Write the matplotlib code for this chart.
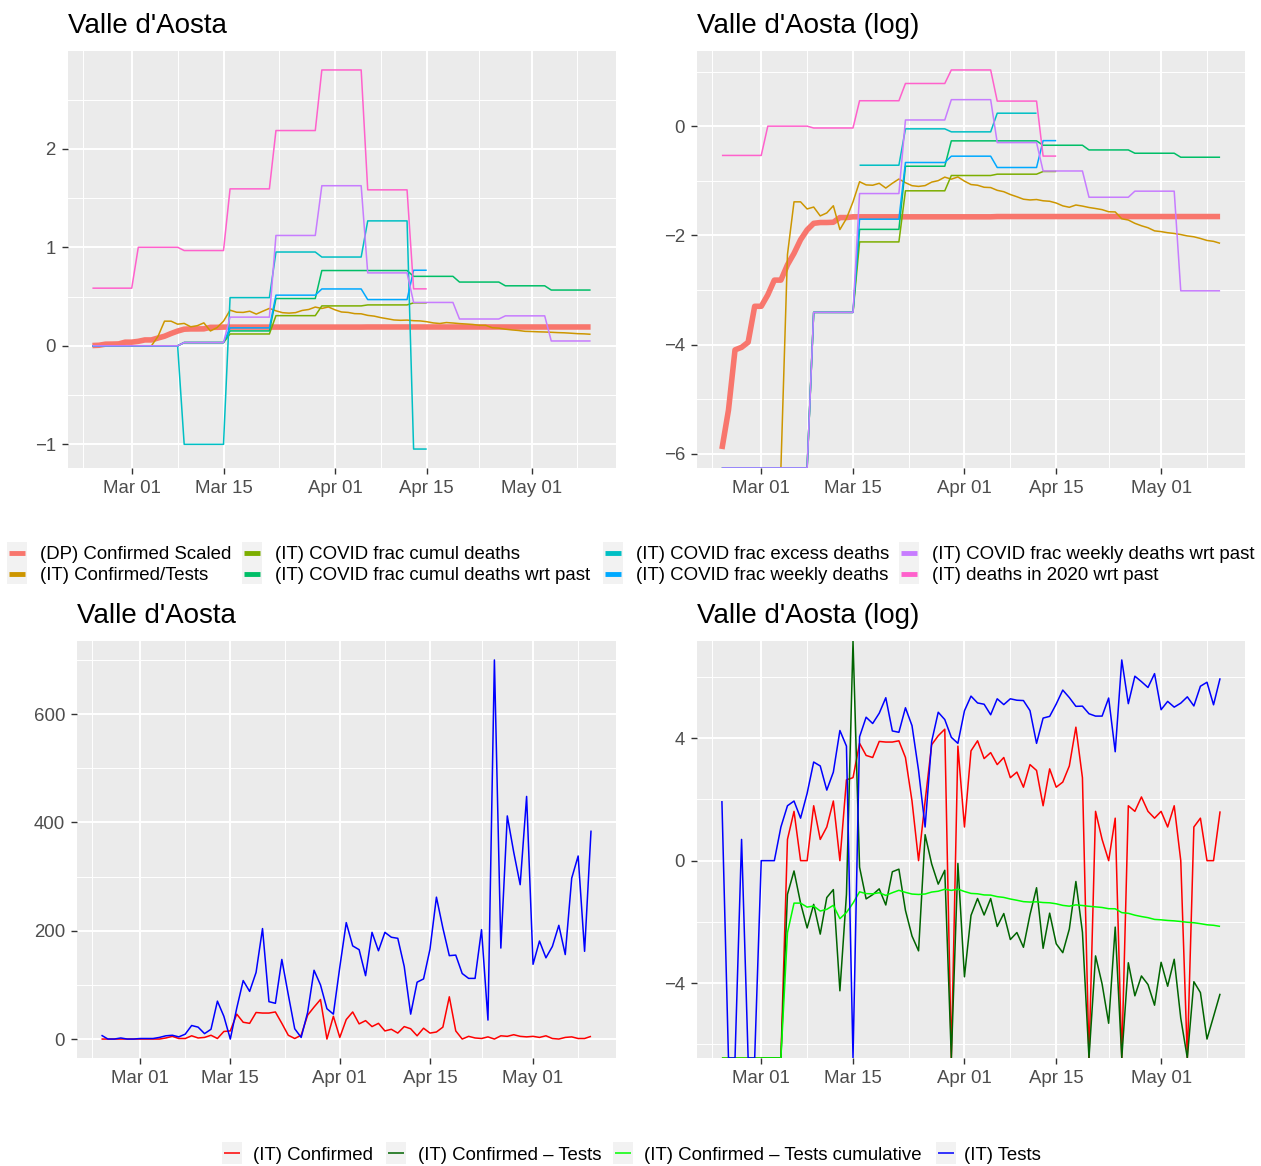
import numpy as np
import matplotlib.pyplot as plt
import matplotlib.dates as mdates
from matplotlib.lines import Line2D
from matplotlib.patches import Rectangle

plt.rcParams['font.family'] = ['Liberation Sans', 'DejaVu Sans']

# one point per day, Feb 24 .. May 10 2020
dates = np.arange(np.datetime64('2020-02-24'), np.datetime64('2020-05-11'))
weekly_end = np.datetime64('2020-04-15')

# weekly values (weeks Mon..Sun starting Feb 24)
deaths_2020_wrt_past = [0.585, 1.0, 0.967, 1.593, 2.185, 2.80, 1.583, 0.578]
frac_excess = [0, 0, -1.0, 0.489, 0.952, 0.901, 1.268, -1.048]
frac_weekly = [0, 0, 0.033, 0.182, 0.514, 0.577, 0.469, 0.767]
frac_cumul = [0, 0, 0.033, 0.120, 0.306, 0.405, 0.415, 0.436]
frac_cumul_wrt_past = [0, 0, 0.033, 0.151, 0.480, 0.764, 0.764, 0.705, 0.647, 0.609, 0.566]
frac_weekly_wrt_past = [0, 0, 0.033, 0.291, 1.120, 1.625, 0.740, 0.440, 0.272, 0.304, 0.049]

# daily values
dp_confirmed_scaled = [
    0.0027, 0.0055, 0.0166, 0.0174, 0.0191, 0.0369, 0.0369, 0.0455, 0.0596, 0.0596,
    0.0789, 0.0973, 0.1249, 0.1496, 0.1686, 0.1712, 0.1712, 0.1720, 0.1875, 0.1875,
    0.190, 0.190, 0.190, 0.190, 0.190, 0.190, 0.190, 0.190, 0.190, 0.190,
    0.190, 0.190, 0.190, 0.190, 0.190, 0.190, 0.190, 0.190, 0.190, 0.190,
    0.190, 0.190, 0.191, 0.191, 0.191, 0.191, 0.191, 0.191, 0.191, 0.191,
    0.191, 0.191, 0.191, 0.191, 0.191, 0.191, 0.191, 0.191, 0.191, 0.191,
    0.191, 0.191, 0.191, 0.191, 0.191, 0.191, 0.191, 0.191, 0.191, 0.191,
    0.191, 0.191, 0.191, 0.191, 0.191, 0.191, 0.191]

it_confirmed = [0, 0, 0, 0, 0, 0, 0, 0, 0, 0,
                2, 5, 1, 1, 6, 2, 3, 7, 1, 14, 15,
                46, 31, 29, 49, 48, 48, 50,
                29, 7, 1, 7, 44, 59, 73,
                0, 42, 3, 36, 50, 28, 34,
                23, 29, 15, 18, 11, 23, 19,
                6, 20, 11, 13, 22, 78, 15,
                0, 5, 2, 1, 4, 0, 6,
                5, 8, 5, 4, 5, 3, 6,
                1, 0, 3, 4, 1, 1, 5]

it_tests = [7, 0, 0, 2, 0, 0, 1, 1, 1, 3, 6, 7, 4, 9, 25, 22, 10, 18, 70, 42, 0,
            57, 108, 88, 123, 204, 69, 66,
            147, 82, 19, 3, 49, 127, 100,
            56, 46, 133, 215, 172, 165, 117,
            197, 163, 197, 188, 186, 134, 46,
            105, 111, 166, 262, 205, 154, 155,
            121, 112, 112, 202, 35, 700, 168,
            412, 345, 285, 448, 138, 181, 150,
            171, 210, 156, 297, 338, 162, 385]

top_labels = ['(DP) Confirmed Scaled', '(IT) Confirmed/Tests', '(IT) COVID frac cumul deaths',
              '(IT) COVID frac cumul deaths wrt past', '(IT) COVID frac excess deaths',
              '(IT) COVID frac weekly deaths', '(IT) COVID frac weekly deaths wrt past',
              '(IT) deaths in 2020 wrt past']
top_colors = ['#F8766D', '#CD9600', '#7CAE00', '#00BE67', '#00BFC4', '#00A9FF', '#C77CFF', '#FF61CC']
bottom_labels = ['(IT) Confirmed', '(IT) Confirmed \u2013 Tests',
                 '(IT) Confirmed \u2013 Tests cumulative', '(IT) Tests']
bottom_colors = ['red', 'darkgreen', '#00FF00', 'blue']

FS = 13.4
TITLE_FS = 20


def daily(vals, stop=None):
    out = np.full(len(dates), np.nan)
    v = np.repeat(np.asarray(vals, float), 7)[:len(dates)]
    out[:len(v)] = v
    if stop is not None:
        out[dates > stop] = np.nan
    return out


conf = np.asarray(it_confirmed, float)
tests = np.asarray(it_tests, float)
with np.errstate(divide='ignore', invalid='ignore'):
    conf_over_tests = np.cumsum(conf) / np.cumsum(tests)

top_values = [np.asarray(dp_confirmed_scaled, float), conf_over_tests,
              daily(frac_cumul, weekly_end), daily(frac_cumul_wrt_past),
              daily(frac_excess, weekly_end), daily(frac_weekly, weekly_end),
              daily(frac_weekly_wrt_past), daily(deaths_2020_wrt_past, weekly_end)]
top_widths = [4.0] + [1.1] * 7

with np.errstate(divide='ignore', invalid='ignore'):
    top_log = [np.log(v) for v in top_values]
    bottom_log = [np.log(conf), np.log(conf) - np.log(tests), np.log(conf_over_tests), np.log(tests)]

x = mdates.date2num(dates)
breaks = mdates.date2num(np.array(['2020-02-15', '2020-03-01', '2020-03-15', '2020-04-01',
                                   '2020-04-15', '2020-05-01', '2020-05-15'], dtype='datetime64[D]'))
xmajor = breaks[1:-1]
xminor = (breaks[:-1] + breaks[1:]) / 2
xlabels = ['Mar 01', 'Mar 15', 'Apr 01', 'Apr 15', 'May 01']
xpad = 0.05 * (x[-1] - x[0])

W, H = 1261, 1166
fig = plt.figure(figsize=(W / 100, H / 100), dpi=100)


def panel(x0, y0, x1, y1):
    return fig.add_axes([x0 / W, 1 - y1 / H, (x1 - x0) / W, (y1 - y0) / H])


def draw(ax, series, colors, widths, title, yticks, yminor):
    finite = np.concatenate([s[np.isfinite(s)] for s in series])
    lo, hi = finite.min(), finite.max()
    pad = 0.05 * (hi - lo)
    lo, hi = lo - pad, hi + pad
    for s, c, w in zip(series, colors, widths):
        y = np.where(np.isposinf(s), hi, np.where(np.isneginf(s), lo, s))
        ax.plot(x, y, color=c, lw=w, solid_joinstyle='round', solid_capstyle='butt')
    ax.set_xlim(x[0] - xpad, x[-1] + xpad)
    ax.set_ylim(lo, hi)
    ax.set_facecolor('#EBEBEB')
    for sp in ax.spines.values():
        sp.set_visible(False)
    ax.set_xticks(xmajor)
    ax.set_xticklabels(xlabels)
    ax.set_xticks(xminor, minor=True)
    ax.set_yticks(yticks)
    ax.set_yticklabels([str(t).replace('-', '\u2212') for t in yticks])
    ax.set_yticks(yminor, minor=True)
    ax.grid(which='minor', color='white', lw=0.7)
    ax.grid(which='major', color='white', lw=1.4)
    ax.set_axisbelow(True)
    ax.tick_params(which='major', length=4, width=1.0, color='#333333',
                   labelsize=FS, labelcolor='#4D4D4D')
    ax.tick_params(axis='x', which='major', pad=4.8)
    ax.tick_params(axis='y', which='major', pad=4.5)
    ax.tick_params(which='minor', length=0)
    ax.set_title(title, loc='left', fontsize=TITLE_FS, pad=13)


ax = panel(67.5, 51, 615.5, 468)
draw(ax, top_values, top_colors, top_widths, "Valle d'Aosta", [-1, 0, 1, 2], [-0.5, 0.5, 1.5, 2.5])
ax = panel(697, 51, 1245, 468)
draw(ax, top_log, top_colors, top_widths, "Valle d'Aosta (log)", [-6, -4, -2, 0], [-5, -3, -1, 1])
ax = panel(77, 641, 615.5, 1058)
draw(ax, [conf, tests], ['red', 'blue'], [1.1, 1.1], "Valle d'Aosta", [0, 200, 400, 600], [100, 300, 500, 700])
ax = panel(697, 641, 1245, 1058)
draw(ax, bottom_log, bottom_colors, [1.1] * 4, "Valle d'Aosta (log)", [-4, 0, 4], [-6, -2, 2, 6])


def legend_entry(kx, ky, kh, label, color, lw, tx):
    fig.add_artist(Rectangle((kx / W, 1 - (ky + kh / 2) / H), 20 / W, kh / H,
                             transform=fig.transFigure, facecolor='#F2F2F2', edgecolor='none'))
    fig.add_artist(Line2D([(kx + 2) / W, (kx + 18) / W], [1 - ky / H] * 2,
                          transform=fig.transFigure, color=color, lw=lw, solid_capstyle='butt'))
    fig.text(tx / W, 1 - (ky + 6.7) / H, label, fontsize=FS, color='black', va='baseline')


key_x = [7, 242, 603, 899]
text_x = [40, 275, 636, 932]
rows_y = [552.5, 573.5]
for i, (lab, col) in enumerate(zip(top_labels, top_colors)):
    legend_entry(key_x[i // 2], rows_y[i % 2], 21.5, lab, col, 3.5, text_x[i // 2])

bkey_x = [222, 386, 613, 936]
btext_x = [253, 418, 644, 964]
for i, (lab, col) in enumerate(zip(bottom_labels, bottom_colors)):
    legend_entry(bkey_x[i], 1153, 21.5, lab, col, 1.1, btext_x[i])

fig.savefig('out.png', dpi=100, facecolor='white')
